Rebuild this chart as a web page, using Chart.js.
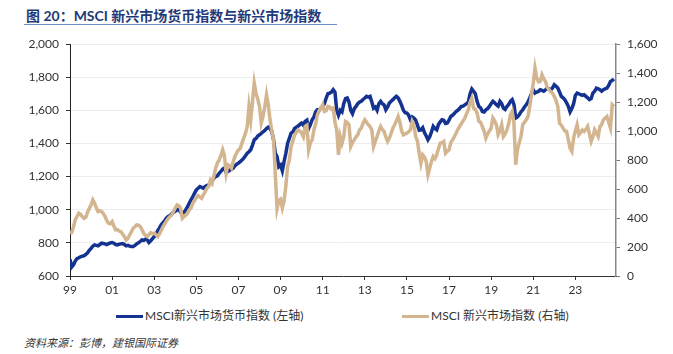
<!DOCTYPE html>
<html>
<head>
<meta charset="utf-8">
<script src="https://cdn.jsdelivr.net/npm/chart.js@4/dist/chart.umd.min.js"></script>
<style>
  body { margin: 0; background: #fff; }
  #page { position: relative; width: 673px; height: 354px; overflow: hidden;
          font-family: Lato, "Noto Sans CJK SC", sans-serif; color: #333; }
  #title { position: absolute; left: 26px; top: 5px; font-size: 14px; font-weight: bold;
           color: #1f3a78; white-space: nowrap; }
  #rule { position: absolute; left: 24px; top: 24px; width: 313px; border-top: 1.5px solid #6f8cc8; }
  #chart { position: absolute; left: 0; top: 0; }
  .leg { position: absolute; top: 308px; font-size: 12px; white-space: nowrap; line-height: 16px; }
  .leg i { display: inline-block; width: 27px; height: 3px; vertical-align: middle; margin-right: 2px; }
  #source { position: absolute; left: 24px; top: 334px; font-size: 11px; font-style: italic; color: #333; }
</style>
</head>
<body>
<div id="page">
  <div id="title">图 20：MSCI 新兴市场货币指数与新兴市场指数</div>
  <div id="rule"></div>
  <canvas id="chart" width="673" height="300"></canvas>
  <div class="leg" style="left:116px"><i style="background:#14328f"></i>MSCI新兴市场货币指数 (左轴)</div>
  <div class="leg" style="left:402px"><i style="background:#d3b58f"></i>MSCI 新兴市场指数 (右轴)</div>
  <div id="source">资料来源：彭博，建银国际证券</div>
</div>
<script>
// monthly values, Jan 1999 .. Nov 2024
const startYear = 1999;

// MSCI 新兴市场货币指数 (左轴)
const fxIndex = [
  700, 655, 668, 690, 705, 710, 716, 720, 722, 730, 740, 755,
  767, 780, 788, 785, 782, 790, 798, 796, 794, 790, 795, 800,
  802, 798, 790, 788, 792, 794, 796, 790, 782, 785, 780, 778,
  778, 785, 794, 800, 808, 818, 815, 822, 818, 802, 812, 825,
  838, 850, 874, 890, 910, 922, 935, 950, 959, 965, 975, 985,
  990, 999, 1005, 985, 979, 985, 1000, 1019, 1040, 1060, 1080, 1100,
  1120, 1130, 1140, 1135, 1130, 1140, 1145, 1150, 1160, 1175, 1190, 1200,
  1205, 1220, 1231, 1245, 1251, 1225, 1230, 1238, 1245, 1251, 1265, 1275,
  1281, 1290, 1300, 1311, 1325, 1341, 1350, 1362, 1390, 1422, 1430, 1445,
  1452, 1460, 1470, 1478, 1490, 1498, 1490, 1472, 1422, 1341, 1321, 1260,
  1270, 1235, 1290, 1340, 1400, 1430, 1462, 1470, 1490, 1498, 1505, 1515,
  1523, 1510, 1533, 1540, 1490, 1513, 1543, 1560, 1590, 1603, 1600, 1613,
  1620, 1640, 1674, 1700, 1704, 1710, 1724, 1710, 1600, 1570, 1600, 1590,
  1640, 1670, 1674, 1650, 1600, 1580, 1610, 1623, 1640, 1650, 1654, 1665,
  1674, 1684, 1680, 1684, 1650, 1613, 1620, 1600, 1640, 1654, 1640, 1633,
  1603, 1620, 1644, 1655, 1664, 1675, 1684, 1675, 1654, 1630, 1600, 1585,
  1583, 1570, 1543, 1560, 1553, 1540, 1510, 1480, 1482, 1495, 1465, 1445,
  1422, 1440, 1470, 1503, 1490, 1482, 1515, 1530, 1543, 1540, 1520, 1523,
  1540, 1563, 1570, 1580, 1593, 1600, 1610, 1623, 1625, 1633, 1640, 1650,
  1700, 1728, 1714, 1700, 1654, 1623, 1615, 1593, 1590, 1603, 1610, 1623,
  1640, 1654, 1645, 1633, 1625, 1654, 1640, 1613, 1605, 1623, 1635, 1654,
  1664, 1635, 1553, 1560, 1573, 1590, 1603, 1620, 1633, 1650, 1674, 1700,
  1724, 1704, 1710, 1714, 1724, 1720, 1715, 1724, 1734, 1730, 1724, 1735,
  1754, 1745, 1734, 1710, 1684, 1675, 1664, 1645, 1623, 1590, 1610, 1640,
  1690, 1704, 1700, 1694, 1690, 1694, 1684, 1675, 1664, 1670, 1704, 1715,
  1734, 1730, 1724, 1715, 1724, 1730, 1734, 1750, 1774, 1780, 1789
];

// MSCI 新兴市场指数 (右轴)
const emIndex = [
  295, 300, 340, 387, 410, 433, 425, 410, 398, 405, 440, 467,
  490, 525, 502, 470, 444, 450, 444, 430, 410, 380, 364, 360,
  375, 345, 318, 320, 310, 306, 290, 272, 249, 260, 283, 305,
  329, 340, 352, 350, 341, 320, 295, 280, 272, 285, 299, 292,
  295, 285, 272, 290, 315, 341, 360, 380, 398, 410, 421, 445,
  470, 490, 485, 467, 398, 410, 420, 433, 455, 470, 502, 520,
  540, 555, 545, 536, 559, 580, 605, 617, 660, 640, 690, 744,
  780, 801, 830, 870, 830, 709, 767, 760, 744, 790, 824, 850,
  870, 880, 916, 950, 985, 1030, 1169, 1077, 1200, 1331, 1261, 1220,
  1169, 1054, 1100, 1169, 1250, 1180, 1077, 1000, 939, 700, 465, 520,
  530, 470, 520, 620, 755, 800, 893, 930, 974, 990, 1008, 1000,
  985, 960, 1031, 1040, 870, 920, 939, 1008, 1050, 1112, 1140, 1158,
  1181, 1135, 1140, 1169, 1165, 1150, 1158, 1060, 1008, 836, 962, 916,
  960, 1066, 1060, 1043, 893, 920, 939, 960, 974, 1008, 1020, 1054,
  1077, 1060, 1043, 1030, 1008, 893, 930, 962, 1000, 1031, 1010, 997,
  960, 928, 950, 985, 1020, 1043, 1070, 1100, 1060, 1000, 974, 980,
  985, 995, 1008, 1066, 1040, 962, 930, 847, 778, 836, 820, 790,
  698, 744, 790, 824, 810, 836, 880, 916, 920, 928, 847, 860,
  870, 920, 939, 960, 985, 1010, 1031, 1050, 1070, 1089, 1120, 1146,
  1200, 1227, 1158, 1150, 1123, 1066, 1060, 1031, 1000, 951, 980, 1000,
  1020, 1089, 1070, 1043, 974, 1000, 1043, 962, 980, 1008, 1050, 1112,
  1135, 1054, 767, 870, 920, 960, 1043, 1060, 1077, 1100, 1169, 1250,
  1331, 1434, 1365, 1340, 1342, 1388, 1360, 1342, 1300, 1285, 1270, 1261,
  1238, 1210, 1169, 1054, 1040, 1020, 1000, 997, 939, 880, 859, 951,
  1000, 1043, 974, 990, 1008, 997, 1010, 1031, 980, 928, 960, 1008,
  985, 962, 1031, 1045, 1077, 1090, 1100, 1060, 1020, 1181, 1169
];

const yearTicks = [1999, 2001, 2003, 2005, 2007, 2009, 2011, 2013, 2015, 2017, 2019, 2021, 2023];
const leftTicks = [600, 800, 1000, 1200, 1400, 1600, 1800, 2000];
const rightTicks = [0, 200, 400, 600, 800, 1000, 1200, 1400, 1600];

const toPoints = arr => arr.map((v, i) => ({ x: startYear + i / 12, y: v }));
const tickFont = { family: 'Lato, "Noto Sans CJK SC", sans-serif', size: 12 };

new Chart(document.getElementById('chart'), {
  type: 'line',
  data: {
    datasets: [{
      label: 'MSCI新兴市场货币指数 (左轴)',
      data: toPoints(fxIndex),
      yAxisID: 'yL',
      borderColor: '#14328f',
      borderWidth: 3.5,
      pointRadius: 0,
      order: 2
    }, {
      label: 'MSCI 新兴市场指数 (右轴)',
      data: toPoints(emIndex),
      yAxisID: 'yR',
      borderColor: '#d3b58f',
      borderWidth: 3.5,
      pointRadius: 0,
      order: 1
    }]
  },
  options: {
    responsive: false,
    animation: false,
    layout: { padding: { top: 44, left: 0, right: 0, bottom: 0 } },
    plugins: { legend: { display: false }, tooltip: { enabled: false } },
    scales: {
      x: {
        type: 'linear',
        min: 1999,
        max: 2024.93,
        afterBuildTicks: s => { s.ticks = yearTicks.map(v => ({ value: v })); },
        afterFit: s => { s.height = 24; },
        ticks: {
          font: tickFont, color: '#333', padding: 3, maxRotation: 0,
          callback: v => String(v % 100).padStart(2, '0')
        },
        grid: { drawOnChartArea: false, tickLength: 4, tickColor: '#333' },
        border: { color: '#333', width: 1 }
      },
      yL: {
        position: 'left',
        min: 600,
        max: 2000,
        afterBuildTicks: s => { s.ticks = leftTicks.map(v => ({ value: v })); },
        afterFit: s => { s.width = 70; },
        ticks: { font: tickFont, color: '#333', padding: 7, callback: v => v.toLocaleString('en-US') },
        grid: { color: '#ededed', tickLength: 4, tickColor: '#333' },
        border: { color: '#222', width: 1 }
      },
      yR: {
        position: 'right',
        min: 0,
        max: 1600,
        afterBuildTicks: s => { s.ticks = rightTicks.map(v => ({ value: v })); },
        afterFit: s => { s.width = 57; },
        ticks: { font: tickFont, color: '#333', padding: 7, callback: v => v.toLocaleString('en-US') },
        grid: { drawOnChartArea: false, tickLength: 4, tickColor: '#777' },
        border: { color: '#888', width: 1.5 }
      }
    }
  }
});
</script>
</body>
</html>
